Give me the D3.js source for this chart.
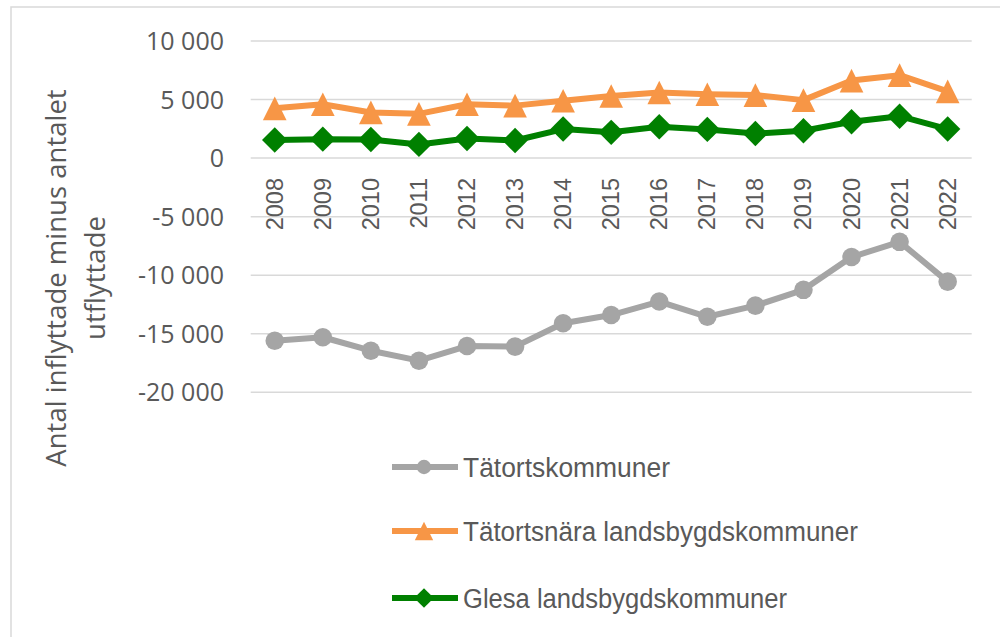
<!DOCTYPE html>
<html>
<head>
<meta charset="utf-8">
<script src="https://cdn.jsdelivr.net/npm/d3@7"></script>
<style>
  body { margin: 0; background: #fff; }
  svg { display: block; }
</style>
</head>
<body>
<div id="chart"></div>
<script>
const years = ["2008","2009","2010","2011","2012","2013","2014","2015","2016","2017","2018","2019","2020","2021","2022"];
const tatort = [-15600,-15300,-16450,-17300,-16050,-16100,-14100,-13400,-12250,-13550,-12600,-11250,-8450,-7150,-10550];
const tatortsnara = [4250,4600,3900,3780,4600,4480,4900,5300,5600,5450,5380,4950,6620,7080,5700];
const glesa = [1550,1620,1590,1170,1680,1500,2480,2200,2680,2450,2100,2330,3100,3580,2480];
const yTicks = [10000,5000,0,-5000,-10000,-15000,-20000];
const seriesNames = ["Tätortskommuner","Tätortsnära landsbygdskommuner","Glesa landsbygdskommuner"];

const W = 1000, H = 637;
const svg = d3.select("#chart").append("svg").attr("width", W).attr("height", H);

// chart frame
svg.append("rect")
  .attr("x", 11).attr("y", 7).attr("width", W).attr("height", H)
  .attr("fill", "none").attr("stroke", "#d9d9d9").attr("stroke-width", 1.5);

const x = d3.scaleBand().domain(years).range([250.7, 971.7]);
const y = d3.scaleLinear().domain([-20000, 10000]).range([392.3, 41]);

const loc = d3.formatLocale({decimal: ",", thousands: " ", grouping: [3], currency: ["", ""], minus: "-"});
const fmt = loc.format(",d");

// gridlines
svg.append("g").selectAll("line").data(yTicks).join("line")
  .attr("x1", x.range()[0]).attr("x2", x.range()[1])
  .attr("y1", d => y(d)).attr("y2", d => y(d))
  .attr("stroke", "#d9d9d9").attr("stroke-width", 1.5);

// y tick labels
svg.append("g").selectAll("text").data(yTicks).join("text")
  .attr("x", 224).attr("y", d => y(d))
  .attr("dy", "0.36em")
  .attr("text-anchor", "end")
  .attr("font-family", "Open Sans, sans-serif")
  .attr("font-size", 25)
  .attr("fill", "#595959")
  .text(d => fmt(d));

// x labels (rotated)
svg.append("g").selectAll("text").data(years).join("text")
  .attr("transform", d => `translate(${x(d) + x.bandwidth() / 2 + 8},178) rotate(-90)`)
  .attr("text-anchor", "end")
  .attr("font-family", "Liberation Sans, Arial, sans-serif")
  .attr("font-size", 23.5)
  .attr("fill", "#595959")
  .text(d => d);

// y axis title
const title = svg.append("text")
  .attr("transform", "translate(66,278) rotate(-90)")
  .attr("text-anchor", "middle")
  .attr("font-family", "Open Sans, sans-serif")
  .attr("font-size", 27.5)
  .attr("fill", "#595959");
title.append("tspan").attr("x", 0).attr("dy", 0).text("Antal inflyttade minus antalet");
title.append("tspan").attr("x", 0).attr("dy", 39).text("utflyttade");

const cx = d => x(d) + x.bandwidth() / 2;
const line = d3.line().x(d => cx(d.year)).y(d => y(d.value));

const series = [
  {name: seriesNames[0], values: tatort, color: "#a5a5a5", marker: "circle"},
  {name: seriesNames[1], values: tatortsnara, color: "#f79646", marker: "triangle"},
  {name: seriesNames[2], values: glesa, color: "#008000", marker: "diamond"}
];

function markerPath(type, s) {
  if (type === "circle") return d3.symbol(d3.symbolCircle, s)();
  if (type === "triangle") {
    const h = Math.sqrt(s) * 1.0;
    return `M0,${-h/2}L${h/2},${h/2}L${-h/2},${h/2}Z`;
  }
  const h = Math.sqrt(s) * 0.62;
  return `M0,${-h}L${h},0L0,${h}L${-h},0Z`;
}
const markerSize = {circle: 270, triangle: 560, diamond: 420};

series.forEach(s => {
  const pts = years.map((yr, i) => ({year: yr, value: s.values[i]}));
  const g = svg.append("g");
  g.append("path").datum(pts)
    .attr("d", line)
    .attr("fill", "none")
    .attr("stroke", s.color)
    .attr("stroke-width", 6)
    .attr("stroke-linejoin", "round");
  g.selectAll("path.m").data(pts).join("path")
    .attr("class", "m")
    .attr("transform", d => `translate(${cx(d.year)},${y(d.value)})`)
    .attr("d", markerPath(s.marker, markerSize[s.marker]))
    .attr("fill", s.color);
});

// legend
const legendY = [467, 531, 598];
const legendW = [207, 395, 324];
series.forEach((s, i) => {
  const g = svg.append("g").attr("transform", `translate(0,${legendY[i]})`);
  g.append("line").attr("x1", 392).attr("x2", 458).attr("y1", 0).attr("y2", 0)
    .attr("stroke", s.color).attr("stroke-width", 6);
  g.append("path").attr("transform", "translate(424,0)")
    .attr("d", markerPath(s.marker, markerSize[s.marker] * 0.6))
    .attr("fill", s.color);
  g.append("text").attr("x", 463).attr("y", 0).attr("dy", "0.36em")
    .attr("font-family", "Liberation Sans, Arial, sans-serif")
    .attr("font-size", 27)
    .attr("fill", "#595959")
    .attr("textLength", legendW[i])
    .attr("lengthAdjust", "spacingAndGlyphs")
    .text(s.name);
});
</script>
</body>
</html>
